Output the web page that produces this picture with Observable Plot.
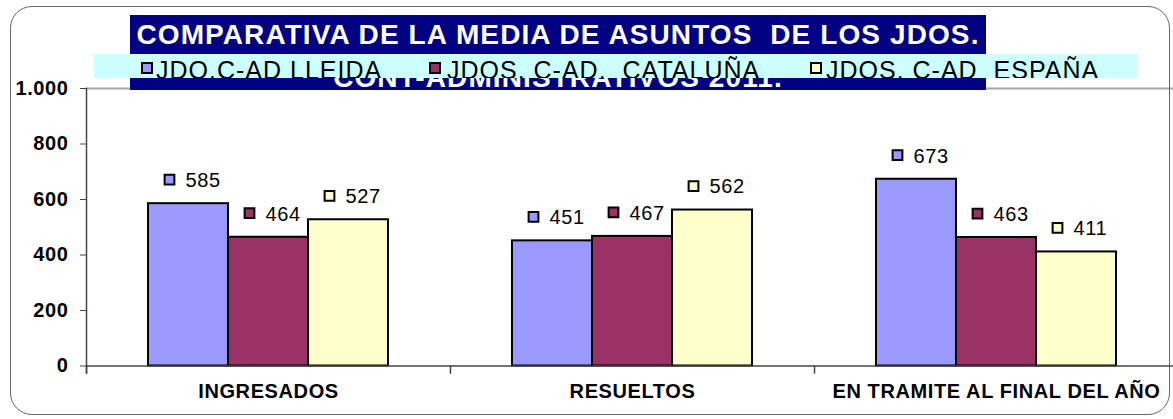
<!DOCTYPE html>
<html><head><meta charset="utf-8">
<script src="https://cdn.jsdelivr.net/npm/d3@7"></script>
<script src="https://cdn.jsdelivr.net/npm/@observablehq/plot@0.6"></script>
<style>
html,body{margin:0;padding:0;background:#fff;overflow:hidden;width:1173px;height:419px;}
#wrap{position:relative;width:1173px;height:419px;overflow:hidden;font-family:"Liberation Sans",Arial,sans-serif;background:#fff;}
#chart{position:absolute;left:0;top:0;}
#chart text{letter-spacing:0.6px;}
#border{position:absolute;left:10px;top:6px;width:1160px;height:409px;border:1.5px solid #666;border-radius:22px;pointer-events:none;box-sizing:border-box;}
#titlebox{position:absolute;left:130px;top:15px;width:856px;height:75px;background:#000080;overflow:hidden;}
.t1{position:absolute;left:0;width:856px;text-align:center;color:#fff;font-weight:bold;font-size:28px;line-height:28px;letter-spacing:1.1px;white-space:pre;}
#legend{position:absolute;left:94px;top:54px;width:1044px;height:24px;background:#CCFFFF;overflow:hidden;}
.li{position:absolute;top:4px;font-size:25px;line-height:25px;letter-spacing:1px;white-space:pre;color:#000;}
.sw{position:absolute;top:8px;width:8px;height:8px;border:2px solid #000;}
</style>
</head>
<body>
<div id="wrap">
  <div id="chart"></div>
  <div id="titlebox">
    <div class="t1" id="title1" style="top:6px"></div>
    <div class="t1" id="title2" style="top:49px"></div>
  </div>
  <div id="legend"></div>
  <div id="border"></div>
</div>
<script>
const titleLines = ["COMPARATIVA DE LA MEDIA DE ASUNTOS  DE LOS JDOS.", "CONT-ADMINISTRATIVOS 2011."];
const categories = ["INGRESADOS", "RESUELTOS", "EN TRAMITE AL FINAL DEL AÑO"];
const seriesNames = ["JDO.C-AD LLEIDA", "JDOS. C-AD.  CATALUÑA", "JDOS. C-AD  ESPAÑA"];
const lleida = [585, 451, 673];
const cataluna = [464, 467, 463];
const espana = [527, 562, 411];
const yTicks = [0, 200, 400, 600, 800, 1000];
const colors = ["#9999FF", "#993366", "#FFFFCC"];

const seriesValues = [lleida, cataluna, espana];
const data = categories.flatMap((c, i) =>
  seriesNames.map((s, j) => ({category: c, series: s, value: seriesValues[j][i]})));
const fmt = d => d3.format(",")(d).replace(/,/g, ".");

document.getElementById("title1").textContent = titleLines[0];
document.getElementById("title2").textContent = titleLines[1];

const legendPos = [[47, 62], [335, 353], [716, 732]];
const legend = document.getElementById("legend");
seriesNames.forEach((s, i) => {
  const sw = document.createElement("div");
  sw.className = "sw";
  sw.style.left = legendPos[i][0] + "px";
  sw.style.background = colors[i];
  legend.appendChild(sw);
  const t = document.createElement("div");
  t.className = "li";
  t.style.left = legendPos[i][1] + "px";
  t.textContent = s;
  legend.appendChild(t);
});

const chart = Plot.plot({
  width: 1178, height: 419,
  marginLeft: 86, marginRight: 0, marginTop: 88, marginBottom: 53.5,
  style: {fontFamily: "'Liberation Sans', Arial, sans-serif", background: "transparent", maxWidth: "none", overflow: "visible"},
  fx: {domain: categories, padding: 0, label: null},
  x: {domain: seriesNames, paddingInner: 0, paddingOuter: 0.747, axis: null},
  y: {domain: [0, 1000], label: null},
  color: {domain: seriesNames, range: colors},
  marks: [
    Plot.ruleY([1000], {stroke: "#a6a6a6", strokeWidth: 2}),
    Plot.barY(data, {fx: "category", x: "series", y: "value", fill: "series", stroke: "#000", strokeWidth: 2}),
    Plot.ruleY([0], {stroke: "#444", strokeWidth: 1.5}),
    Plot.frame({anchor: "left", fx: () => categories[0], stroke: "#444", strokeWidth: 1.5, insetBottom: -7}),
    Plot.frame({anchor: "left", stroke: "#444", strokeWidth: 1.5, insetTop: 277.5, insetBottom: -7}),
    Plot.axisY({ticks: yTicks, tickFormat: fmt, tickSize: 6, tickPadding: 12, fontSize: 20, fontWeight: "bold", fill: "#000", stroke: "#444", label: null}),
    Plot.axisFx({anchor: "bottom", tickSize: 0, tickPadding: 17.5, fontSize: 20, fontWeight: "bold", fill: "#000", label: null}),
    Plot.dot(data, {fx: "category", x: "series", y: "value", symbol: "square", r: 5.5, fill: "series", stroke: "#000", strokeWidth: 2, dx: -19, dy: -24}),
    Plot.text(data, {fx: "category", x: "series", y: "value", text: d => fmt(d.value), textAnchor: "start", dx: -3, dy: -23, fontSize: 20, fill: "#000"})
  ]
});
document.getElementById("chart").appendChild(chart);
</script>
</body></html>
